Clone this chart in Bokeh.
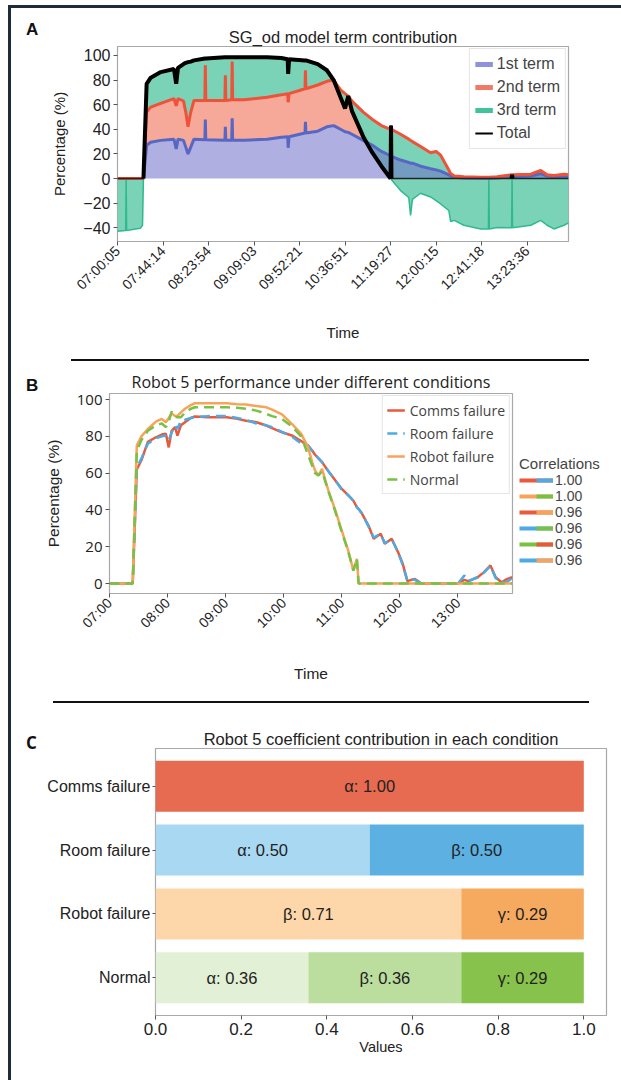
import math
from bokeh.plotting import figure
from bokeh.models import (ColumnDataSource, Range1d, FixedTicker, Legend, LegendItem,
                          Div, NumeralTickFormatter)
from bokeh.layouts import column, row
from bokeh.embed import file_html
from bokeh.resources import INLINE
from bokeh.core.properties import value

SANS = "Liberation Sans"
OPEN = "Open Sans"
DARK = "#1e2b38"

# ---------------- Panel A data (x = sample index in tick units) ----------------
a_index = [0.00, 0.18, 0.19, 0.20, 0.50, 0.55, 0.57, 0.64, 0.73, 0.95, 1.24, 1.29, 1.33, 1.45,
           1.50, 1.55, 1.61, 1.68, 1.92, 1.93, 1.94, 2.36, 2.37, 2.38, 2.51, 2.52, 2.53, 2.78,
           3.29, 3.60, 3.74, 3.75, 3.77, 4.12, 4.13, 4.14, 4.40, 4.60, 4.75, 4.90, 5.00, 5.07,
           5.15, 5.40, 5.60, 5.80, 6.00, 6.01, 6.02, 6.22, 6.40, 6.44, 6.48, 6.66, 6.88, 7.00,
           7.10, 7.28, 7.32, 7.40, 7.61, 7.98, 8.15, 8.16, 8.17, 8.34, 8.66, 8.67, 8.68, 9.08,
           9.30, 9.44, 9.59, 9.81, 9.91]
a_tick_labels = ["07:00:05", "07:44:14", "08:23:54", "09:09:03", "09:52:21",
                 "10:36:51", "11:19:27", "12:00:15", "12:41:18", "13:23:36"]
term1 = [0, 0, 0, 0, 0, 0, 0, 27, 29.5, 31, 32, 24, 32, 31, 25.5, 20, 25.5, 32, 31.5, 48, 31.5,
         31, 42, 31, 31, 49, 31, 31, 32, 33.5, 34, 25, 34, 37, 46, 37, 38.5, 42, 43, 40, 38, 37.5,
         36, 31, 27, 22, 18.5, 18.5, 18, 15, 13, 12.5, 12.5, 10, 8, 7, 6, 3, 2, 1, 0.5, 0.3, 0.3,
         0.3, 0.3, 0.5, 1.5, 1.5, 1.5, 2, 4, 2, 1.5, 2, 1.5]
term2 = [0, 0, 0, 0, 0, 0, 0, 27, 28.5, 30, 33, 35, 33, 32, 28.5, 22, 28.5, 31.4, 32, 44, 32,
         32.5, 42, 32.5, 33, 46, 33, 33, 34, 34.5, 35, 37, 35, 36, 42, 36, 37.5, 37, 37, 32, 31,
         29.5, 27, 23, 21, 21, 21.5, 21.5, 22, 21, 19, 18.5, 17.5, 16, 13, 15, 13, 4, 2, 1, 1,
         0.7, 0.7, 0.7, 0.7, 1, 1.5, 1.5, 1.5, 1.5, 2.5, 1, 1, 1.5, 1.5]
term3 = [-42.8, -42.3, 0, -42.2, -40.5, -38.0, 0, 23, 24, 25.5, 24, 18, 25, 30, 40, 52.6, 41,
         32.6, 34, 5.5, 34, 35, 14.5, 35, 34.5, 3.5, 34.5, 34.6, 32.6, 30, 28, 23, 28, 23, 8, 23,
         17, 9, 0, -6, -12, 0, -8, -20, -27, -33, -40, 3, -41, -45.8, -47.4, -61, -47, -38, -36,
         -40, -39.6, -33, -39, -36, -39.5, -42, -42, -1, -42, -41.3, -43, 0, -43, -41.5, -40.5,
         -41, -43.5, -41.5, -39]

# ---------------- Panel B data (x = hour of day) ----------------
b_hours = [7.00, 7.40, 7.47, 7.55, 7.66, 7.80, 7.90, 7.97, 8.02, 8.07, 8.13, 8.17, 8.23, 8.30,
           8.40, 8.47, 8.70, 9.02, 9.20, 9.35, 9.53, 9.70, 9.80, 9.97, 10.14, 10.30, 10.42,
           10.49, 10.54, 10.60, 10.66, 10.77, 10.89, 11.00, 11.11, 11.20, 11.26, 11.29, 11.35,
           11.46, 11.55, 11.67, 11.74, 11.86, 11.97, 12.05, 12.13, 12.20, 12.26, 12.37, 13.00,
           13.11, 13.18, 13.34, 13.45, 13.56, 13.65, 13.75, 13.85, 13.94]
comms = [0, 0, 62, 67, 77, 79.5, 81, 81.5, 74, 83, 85, 80.4, 86, 87.7, 90, 90.8, 90.4, 90.4,
         89.5, 88.5, 87.7, 85.9, 84.5, 82.2, 80.5, 77.5, 75, 72.3, 70, 68, 66, 61, 56, 51.4, 48,
         45, 41.5, 40.5, 37.9, 31.5, 24.3, 27, 21.6, 24.3, 17, 10.7, 1.3, 2, 2.5, 0, 0, 2, 1.3,
         3.4, 6.2, 9.8, 3.4, 0.7, 2.5, 3.4]
room = [0, 0, 63, 68, 76, 79, 80, 80.5, 78, 82, 86, 84, 88.6, 89, 90, 90.5, 91, 91, 90, 89, 87,
        86, 85, 82.5, 80, 76, 75, 72, 70, 68, 66, 61, 56, 51, 48, 45, 41.5, 40.5, 38, 31, 25, 27,
        22, 24, 17, 10, 1.5, 2.5, 2, 0, 0, 4.3, 1.3, 3.4, 6, 9.5, 3, 0.5, 1, 3]
robot = [0, 0, 75, 80, 84, 88, 89.5, 87.7, 90, 92.5, 91, 91, 93, 95, 97, 98, 98, 98, 97.5, 97.3,
         96.5, 95.8, 94.5, 92, 86.8, 81.5, 74, 66, 61.4, 58.7, 62.3, 50.5, 39.7, 28.8, 18, 7,
         13.4, 0] + [0] * 22
normal = [0, 0, 72, 78, 83, 86, 87, 85, 88, 93.5, 90.5, 90.4, 90.4, 93, 95, 95.8, 95.8, 95.8,
          95.5, 95, 94, 92.2, 91, 89.5, 85.5, 80, 70, 64, 60, 58.7, 61, 50, 39, 28, 17.5, 7, 13.4,
          0] + [0] * 22
b_tick_hours = [7, 8, 9, 10, 11, 12, 13]
b_tick_labels = ["07:00", "08:00", "09:00", "10:00", "11:00", "12:00", "13:00"]
corr_pairs = [("Comms failure", "Room failure"), ("Robot failure", "Normal"),
              ("Comms failure", "Robot failure"), ("Room failure", "Normal"),
              ("Normal", "Comms failure"), ("Room failure", "Robot failure")]
corr_values = [1.00, 1.00, 0.96, 0.96, 0.96, 0.96]

# ---------------- Panel C data ----------------
conditions = ["Comms failure", "Room failure", "Robot failure", "Normal"]
coef_names = ["α", "β", "γ"]
alpha_c = [1.00, 0.50, 0.0, 0.357]
beta_c = [0.0, 0.50, 0.714, 0.357]
gamma_c = [0.0, 0.0, 0.286, 0.286]
cond_colors = {"Comms failure": ["#e76b50"],
               "Room failure": ["#a9d8f2", "#5cb1e2"],
               "Robot failure": ["#fdd7aa", "#f6aa5f"],
               "Normal": ["#e2f0d6", "#bbdd9d", "#87c24c"]}
line_colors = {"Comms failure": "#e9593b", "Room failure": "#4eaae2",
               "Robot failure": "#f8a35a", "Normal": "#78c142"}
series_b = {"Comms failure": comms, "Room failure": room, "Robot failure": robot,
            "Normal": normal}


def style_axes(p, font, tick_size, label_size):
    p.xgrid.visible = False
    p.ygrid.visible = False
    p.outline_line_color = "#a8a8a8"
    p.outline_line_width = 1.2
    p.background_fill_color = "white"
    p.border_fill_color = "white"
    for ax in (p.xaxis[0], p.yaxis[0]):
        ax.axis_line_color = None
        ax.major_tick_in = 0
        ax.major_tick_out = 4
        ax.minor_tick_line_color = None
        ax.major_tick_line_color = "#555555"
        ax.major_label_text_font = font
        ax.major_label_text_font_size = tick_size
        ax.major_label_text_color = "#222222"
        ax.axis_label_text_font = SANS
        ax.axis_label_text_font_size = label_size
        ax.axis_label_text_font_style = "normal"
        ax.axis_label_text_color = "#222222"
        ax.major_label_standoff = 3


def style_title(p, text, font, size):
    p.title.text = text
    p.title.align = "center"
    p.title.text_font = font
    p.title.text_font_size = size
    p.title.text_font_style = "normal"
    p.title.text_color = "#222222"
    p.title.standoff = 2


# ================= Panel A =================
cum1 = list(term1)
cum2 = [a + b for a, b in zip(term1, term2)]
tot = [a + b + c for a, b, c in zip(term1, term2, term3)]
total = [max(0.0, t) for t in tot]
n = len(a_index)
total_thick = []
for i in range(n):
    near = any(total[j] > 0 for j in range(max(0, i - 1), min(n, i + 2)))
    total_thick.append(total[i] if near else float("nan"))

pA = figure(width=580, height=350, x_range=Range1d(0, 9.91), y_range=Range1d(-51.2, 107.3),
            output_backend="svg", toolbar_location=None,
            min_border_left=76, min_border_right=53, min_border_top=38, min_border_bottom=117)
pA.extra_y_ranges = {"legend": Range1d(1000, 2000)}
srcA = ColumnDataSource(dict(x=a_index, zero=[0] * n, c1=cum1, c2=cum2, tot=tot,
                             total=total, thick=total_thick))
pA.varea(x="x", y1="c1", y2="c2", source=srcA, fill_color="#f6a999")
pA.varea(x="x", y1="c2", y2="tot", source=srcA, fill_color="#7ad3b6")
pA.varea(x="x", y1="zero", y2="c1", source=srcA, fill_color="#6e70c8", fill_alpha=0.55)
pA.line("x", "tot", source=srcA, line_color="#30b98e", line_width=1.5)
pA.line("x", "c1", source=srcA, line_color="#5767c3", line_width=3)
pA.line("x", "c2", source=srcA, line_color="#ef5238", line_width=3)
pA.line("x", "total", source=srcA, line_color="#222222", line_width=1.5)
pA.line("x", "thick", source=srcA, line_color="black", line_width=4)

style_axes(pA, SANS, "16px", "15px")
pA.xaxis.ticker = FixedTicker(ticks=list(range(10)))
pA.xaxis.major_label_overrides = {i: s for i, s in enumerate(a_tick_labels)}
pA.xaxis.major_label_orientation = math.pi / 4
pA.xaxis.major_label_text_font_size = "14px"
pA.yaxis.ticker = FixedTicker(ticks=[-40, -20, 0, 20, 40, 60, 80, 100])
pA.xaxis.axis_label = "Time"
pA.yaxis.axis_label = "Percentage (%)"
pA.xaxis.axis_label_standoff = 23
pA.yaxis.axis_label_standoff = 12
style_title(pA, "SG_od model term contribution", SANS, "16.5px")

la = [pA.line("x", "c1", source=srcA, y_range_name="legend", line_color="#8d92da", line_width=5),
      pA.line("x", "c2", source=srcA, y_range_name="legend", line_color="#f17a66", line_width=5),
      pA.line("x", "tot", source=srcA, y_range_name="legend", line_color="#3fc39b", line_width=5),
      pA.line("x", "total", source=srcA, y_range_name="legend", line_color="black", line_width=2)]
legA = Legend(items=[LegendItem(label=t, renderers=[r]) for t, r in
                     zip(["1st term", "2nd term", "3rd term", "Total"], la)],
              location="top_right", margin=2, padding=5, spacing=3, glyph_width=18,
              glyph_height=20, label_height=20, label_standoff=4,
              label_text_font=SANS, label_text_font_size="16px",
              border_line_color="#cccccc", background_fill_alpha=1.0)
pA.add_layout(legA)

# ================= Panel B =================
pB = figure(width=474, height=338, x_range=Range1d(7.0, 13.94), y_range=Range1d(-5.43, 103.3),
            output_backend="svg", toolbar_location=None,
            min_border_left=65, min_border_right=3, min_border_top=31, min_border_bottom=107)
rc = pB.line(b_hours, comms, line_color=line_colors["Comms failure"], line_width=2.5)
rr = pB.line(b_hours, room, line_color=line_colors["Room failure"], line_width=2.5,
             line_dash="10 6")
rb = pB.line(b_hours, robot, line_color=line_colors["Robot failure"], line_width=2.5)
rn = pB.line(b_hours, normal, line_color=line_colors["Normal"], line_width=2.5,
             line_dash="10 6")
style_axes(pB, SANS, "14px", "15.5px")
pB.yaxis.major_label_text_font = OPEN
pB.yaxis.major_label_text_font_size = "15px"
pB.xaxis.ticker = FixedTicker(ticks=b_tick_hours)
pB.xaxis.major_label_overrides = {h: s for h, s in zip(b_tick_hours, b_tick_labels)}
pB.xaxis.major_label_orientation = math.pi / 4
pB.yaxis.ticker = FixedTicker(ticks=[0, 20, 40, 60, 80, 100])
pB.xaxis.axis_label = "Time"
pB.yaxis.axis_label = "Percentage (%)"
pB.xaxis.axis_label_standoff = 25
pB.yaxis.axis_label_standoff = 12
style_title(pB, "Robot 5 performance under different conditions", OPEN, "16px")

legB = Legend(items=[LegendItem(label=t, renderers=[r]) for t, r in
                     zip(["Comms failure", "Room failure", "Robot failure", "Normal"],
                         [rc, rr, rb, rn])],
              location="top_right", margin=2, padding=4, spacing=3, glyph_width=18,
              glyph_height=20, label_height=20, label_standoff=5,
              label_text_font=OPEN, label_text_font_size="14px",
              border_line_color="#cccccc", background_fill_alpha=1.0)
pB.add_layout(legB)

# correlations legend: a frameless companion figure whose series lie outside its view
L_TOP = 89
pL = figure(width=106, height=338 - L_TOP, x_range=Range1d(7.0, 13.94),
            y_range=Range1d(1000, 2000), x_axis_type=None, y_axis_type=None,
            output_backend="svg", toolbar_location=None,
            min_border_left=0, min_border_right=0, min_border_top=0, min_border_bottom=0)
pL.outline_line_color = None
pL.background_fill_color = "white"
pL.border_fill_color = "white"
corr_items = []
for (a, b), v in zip(corr_pairs, corr_values):
    r1 = pL.line(b_hours, series_b[a], line_color=line_colors[a], line_width=4)
    r2 = pL.line(b_hours, series_b[b], line_color=line_colors[b], line_width=4,
                 line_dash="17 17", line_dash_offset=17)
    corr_items.append(LegendItem(label=f"{v:.2f}", renderers=[r1, r2]))
legC = Legend(items=corr_items, title="Correlations", location="top_left", margin=4, padding=0,
              spacing=0, glyph_width=34, glyph_height=14, label_height=14, label_standoff=2,
              label_text_font=SANS, label_text_font_size="14px",
              title_text_font=SANS, title_text_font_size="15px", title_text_font_style="normal",
              title_standoff=0, border_line_color=None, background_fill_alpha=0)
pL.add_layout(legC)
corr_box = column(Div(width=106, height=L_TOP, margin=0), pL, spacing=0)

# ================= Panel C =================
seg = dict(y=[], left=[], right=[], color=[], xc=[], label=[])
for i, cond in enumerate(conditions):
    yv = len(conditions) - 1 - i
    left = 0.0
    k = 0
    for name, vals in zip(coef_names, [alpha_c, beta_c, gamma_c]):
        v = vals[i]
        if v > 0:
            seg["y"].append(yv)
            seg["left"].append(left)
            seg["right"].append(left + v)
            seg["color"].append(cond_colors[cond][k])
            seg["xc"].append(left + v / 2)
            seg["label"].append(f"{name}: {v:.2f}")
            k += 1
        left += v
srcC = ColumnDataSource(seg)

pC = figure(width=580, height=376, x_range=Range1d(0, 1.053), y_range=Range1d(-0.59, 3.59),
            output_backend="svg", toolbar_location=None,
            min_border_left=114, min_border_right=15, min_border_top=44, min_border_bottom=65)
pC.hbar(y="y", left="left", right="right", height=0.8, fill_color="color", line_color=None,
        source=srcC)
pC.text(x="xc", y="y", text="label", source=srcC, text_align="center", text_baseline="middle",
        text_font=value(SANS), text_font_size="16.5px", text_color="#222222")
style_axes(pC, SANS, "17px", "14.5px")
pC.yaxis.ticker = FixedTicker(ticks=[0, 1, 2, 3])
pC.yaxis.major_label_overrides = {len(conditions) - 1 - i: c for i, c in enumerate(conditions)}
pC.yaxis.major_label_text_font_size = "16px"
pC.yaxis.major_tick_out = 3
pC.yaxis.major_label_standoff = 2
pC.xaxis.ticker = FixedTicker(ticks=[0.0, 0.2, 0.4, 0.6, 0.8, 1.0])
pC.xaxis.formatter = NumeralTickFormatter(format="0.0")
pC.xaxis.axis_label = "Values"
pC.xaxis.axis_label_standoff = 1
style_title(pC, "Robot 5 coefficient contribution in each condition", SANS, "16.5px")


# ================= page frame =================
def border(h):
    return Div(width=3, height=h, margin=(0, 0, 0, 8), styles={"background-color": DARK})


def letter(text, h, top, font):
    html = (f'<div style="padding-left:15px;padding-top:{top}px;font-family:\'{font}\';'
            f'font-size:17px;font-weight:bold;line-height:1;color:#111111">{text}</div>')
    return Div(text=html, width=30, height=h, margin=0)


def separator(x0, length):
    return Div(width=length, height=2, margin=(1, 0, 1, x0), styles={"background-color": "#111111"})


page = column(
    Div(width=613, height=3, margin=(5, 0, 0, 8), styles={"background-color": DARK}),
    row(border(350), letter("A", 350, 13, SANS), pA, spacing=0),
    row(border(4), separator(60, 518), spacing=0),
    row(border(338), letter("B", 338, 15, SANS), pB, corr_box, spacing=0),
    row(border(4), separator(42, 536), spacing=0),
    row(border(376), letter("C", 376, 30, OPEN), pC, spacing=0),
    spacing=0)

open("out.html", "w").write(file_html(page, INLINE))
